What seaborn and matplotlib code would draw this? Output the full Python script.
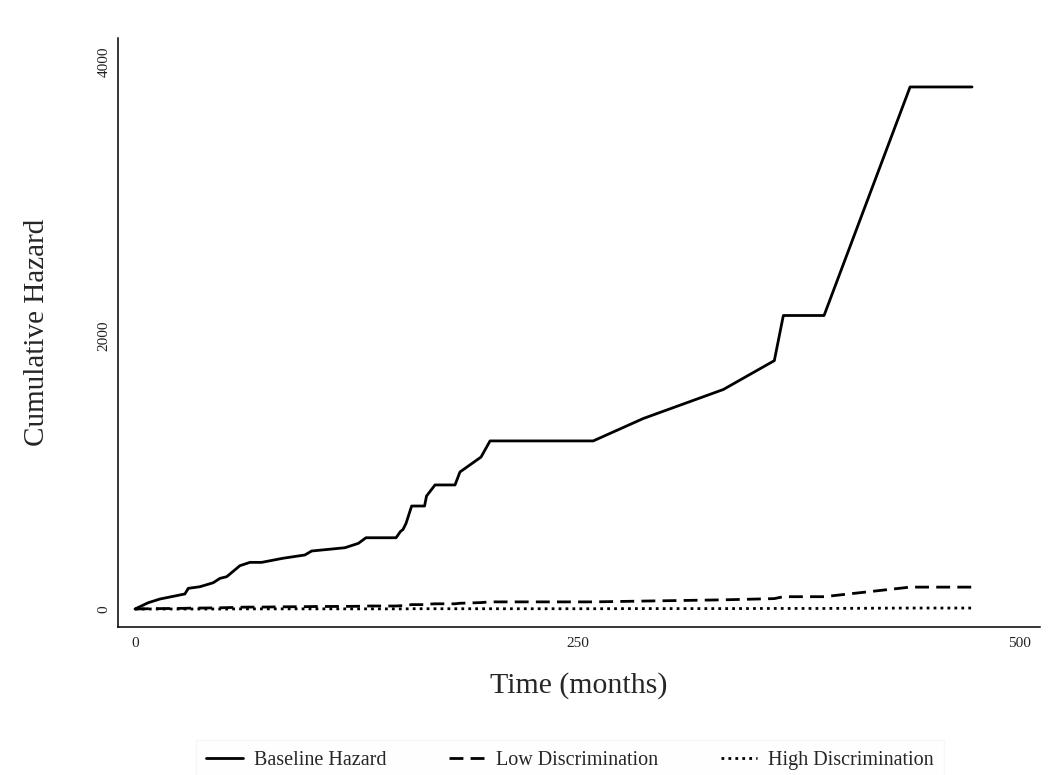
import numpy as np
import pandas as pd
import matplotlib
matplotlib.use("Agg")
import matplotlib.pyplot as plt
import seaborn as sns

# ---- data ----
time_months = [0, 7.5, 14.1, 28.2, 30.1, 36.7, 44.2, 48.0, 51.8, 59.3, 65.0, 71.6,
               83.6, 96.0, 99.8, 118.6, 126.2, 130.5, 147.5, 150.0, 151.4, 153.1,
               156.3, 163.6, 164.7, 169.5, 180.8, 183.6, 195.5, 200.6, 258.9, 287.2,
               332.4, 361.2, 366.3, 389.3, 437.9, 472.9]
baseline_hazard = [0, 46, 73, 110, 151, 163, 192, 224, 236, 317, 341, 341,
                   371, 395, 424, 448, 480, 521, 521, 567, 581, 625,
                   753, 753, 826, 907, 907, 1002, 1111, 1229, 1229, 1393,
                   1605, 1816, 2146, 2146, 3817, 3817]
low_discrimination = [0, 2, 3, 5, 6, 7, 8, 9, 10, 13, 14, 14,
                      16, 17, 18, 19, 20, 22, 22, 24, 24, 26,
                      32, 32, 35, 38, 38, 42, 47, 52, 52, 58,
                      67, 76, 90, 90, 160, 160]
high_discrimination = [0, 0, 0, 0, 0, 0, 0, 0, 0, 1, 1, 1,
                       1, 1, 1, 1, 1, 1, 1, 1, 1, 1,
                       2, 2, 2, 2, 2, 2, 2, 2, 2, 3,
                       3, 4, 4, 4, 7, 7]
series_names = ["Baseline Hazard", "Low Discrimination", "High Discrimination"]
x_ticks = [0, 250, 500]
y_ticks = [0, 2000, 4000]

df = pd.DataFrame({
    "time": time_months * 3,
    "hazard": baseline_hazard + low_discrimination + high_discrimination,
    "series": [series_names[0]] * len(time_months)
              + [series_names[1]] * len(time_months)
              + [series_names[2]] * len(time_months),
})

sns.set_theme(style="white")
plt.rcParams["font.family"] = ["Liberation Serif", "DejaVu Serif"]

fig = plt.figure(figsize=(10.6, 7.75), dpi=100)
ax = fig.add_axes([118 / 1060, 1 - 627 / 775, (1040 - 118) / 1060, (627 - 38) / 775])

dash_map = {
    series_names[0]: "",
    series_names[1]: (5, 2.6),
    series_names[2]: (1, 1.5),
}
sns.lineplot(data=df, x="time", y="hazard", style="series", dashes=dash_map,
             style_order=series_names, color="black", linewidth=2.0,
             ax=ax, legend=False, sort=False, estimator=None)

ax.set_xlim(-9.6, 511.3)
ax.set_ylim(-131.6, 4175)
ax.set_xticks(x_ticks)
ax.set_yticks(y_ticks)
ax.set_xticklabels([str(v) for v in x_ticks], fontsize=11, color="#222222")
ax.set_yticklabels([str(v) for v in y_ticks], fontsize=11, color="#222222",
                   rotation=90, va="center")
ax.tick_params(axis="both", length=0)
ax.tick_params(axis="x", pad=7)
ax.tick_params(axis="y", pad=5.5)

for side in ["top", "right"]:
    ax.spines[side].set_visible(False)
for side in ["left", "bottom"]:
    ax.spines[side].set_color("black")
    ax.spines[side].set_linewidth(1.1)

ax.set_xlabel("Time (months)", fontsize=21.5, labelpad=16)
ax.set_ylabel("Cumulative Hazard", fontsize=21, labelpad=34)
ax.grid(False)

handles = [
    plt.Line2D([], [], color="black", linewidth=2.0, linestyle="-"),
    plt.Line2D([], [], color="black", linewidth=2.0, linestyle=(0, (5, 2.6))),
    plt.Line2D([], [], color="black", linewidth=2.0, linestyle=(0, (1, 1.5))),
]
leg = fig.legend(handles, series_names, loc="center", ncol=3,
                 bbox_to_anchor=(570 / 1060, 1 - 760 / 775),
                 fontsize=14.5, frameon=True, handlelength=1.8,
                 columnspacing=3.1, handletextpad=0.55,
                 fancybox=False, borderpad=0.5)
leg.get_frame().set_facecolor("#fefefe")
leg.get_frame().set_edgecolor("#f6f6f6")

fig.savefig("out.png", dpi=100, facecolor="white")
